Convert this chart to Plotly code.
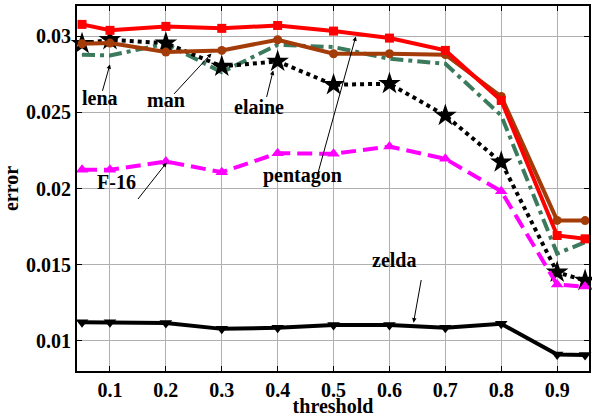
import plotly.graph_objects as go

threshold = [0.05, 0.1, 0.2, 0.3, 0.4, 0.5, 0.6, 0.7, 0.8, 0.9, 0.95]
pentagon = [0.03079, 0.0304, 0.03066, 0.03053, 0.03072, 0.03035, 0.02989, 0.02908, 0.02579, 0.01691, 0.01669]
man = [0.02952, 0.02956, 0.02897, 0.02908, 0.02978, 0.02886, 0.02886, 0.0288, 0.02605, 0.0179, 0.01789]
lena = [0.0288, 0.02875, 0.02952, 0.02765, 0.02945, 0.0293, 0.02853, 0.0282, 0.0248, 0.01572, 0.01647]
elaine = [0.02952, 0.02978, 0.02956, 0.02803, 0.02836, 0.02682, 0.02689, 0.0248, 0.02173, 0.01449, 0.01395]
f16 = [0.02123, 0.02123, 0.02178, 0.02107, 0.02232, 0.02228, 0.02276, 0.02195, 0.01982, 0.01368, 0.01355]
zelda = [0.0112, 0.0112, 0.01116, 0.01077, 0.01084, 0.01103, 0.01103, 0.01084, 0.0111, 0.00908, 0.00906]

x_ticks = [0.1, 0.2, 0.3, 0.4, 0.5, 0.6, 0.7, 0.8, 0.9]
y_ticks = [0.01, 0.015, 0.02, 0.025, 0.03]
y_ticktext = ["0.01", "0.015", "0.02", "0.025", "0.03"]

# label text positions and arrow (head, tail) positions in data units
labels = ["lena", "man", "elaine", "pentagon", "F-16", "zelda"]
label_x = [0.0822, 0.2, 0.3671, 0.4437, 0.1125, 0.6075]
label_y = [0.02592, 0.02579, 0.02533, 0.02085, 0.02046, 0.01533]
head_x = [0.1, 0.2816, 0.392, 0.5398, 0.2015, 0.6431]
head_y = [0.02816, 0.02888, 0.02776, 0.0300, 0.02171, 0.01118]
tail_x = [0.0858, 0.2122, 0.3796, 0.4704, 0.148, 0.6573]
tail_y = [0.02632, 0.02612, 0.02592, 0.02079, 0.01921, 0.01408]

FONT = "Liberation Serif"

fig = go.Figure()

def add(y, color, dash, symbol, msize, width=4):
    fig.add_trace(go.Scatter(
        x=threshold, y=y, mode="lines+markers",
        line=dict(color=color, width=width, dash=dash),
        marker=dict(symbol=symbol, size=msize, color=color, line=dict(width=0)),
        showlegend=False, cliponaxis=False))

add(lena, "#3b7a5c", "13px,5px,4px,5px", "circle", 1)
add(elaine, "#000000", "4px,4px", "star", 17)
add(f16, "#ff00ff", "15px,7px", "triangle-up", 11)
add(man, "#a33c08", "solid", "circle", 9)
add(pentagon, "#ff0000", "solid", "square", 9)
add(zelda, "#000000", "solid", "triangle-down", 11)

for i, t in enumerate(labels):
    fig.add_annotation(x=head_x[i], y=head_y[i], ax=tail_x[i], ay=tail_y[i],
                       axref="x", ayref="y", xref="x", yref="y", text="",
                       showarrow=True, arrowhead=2, arrowsize=0.9, arrowwidth=1,
                       arrowcolor="black", standoff=0, startstandoff=0)
for i, t in enumerate(labels):
    fig.add_annotation(x=label_x[i], y=label_y[i], text="<b>%s</b>" % t,
                       showarrow=False, font=dict(family=FONT, size=20, color="black"))

axis_common = dict(showline=True, linecolor="black", linewidth=2, mirror="ticks",
                   ticks="inside", ticklen=5, tickcolor="black",
                   showgrid=True, gridcolor="#b0b0b0", gridwidth=1.2, zeroline=False,
                   tickfont=dict(family=FONT, size=20, color="black"))

fig.update_xaxes(range=[0.041, 0.957], tickvals=x_ticks,
                 ticktext=["<b>%g</b>" % v for v in x_ticks],
                 title=dict(text="<b>threshold</b>", font=dict(family=FONT, size=20, color="black"), standoff=0),
                 **axis_common)
fig.update_yaxes(range=[0.008, 0.032], tickvals=y_ticks,
                 ticktext=["<b>%s</b>" % v for v in y_ticktext],
                 title=dict(text="<b>error</b>", font=dict(family=FONT, size=20, color="black"), standoff=4),
                 **axis_common)

fig.update_layout(width=592, height=417, margin=dict(l=77, r=1, t=6, b=46),
                  plot_bgcolor="white", paper_bgcolor="white")

fig.write_html("out.html", config={"displayModeBar": False},
               post_script="document.body.style.margin='0';")
